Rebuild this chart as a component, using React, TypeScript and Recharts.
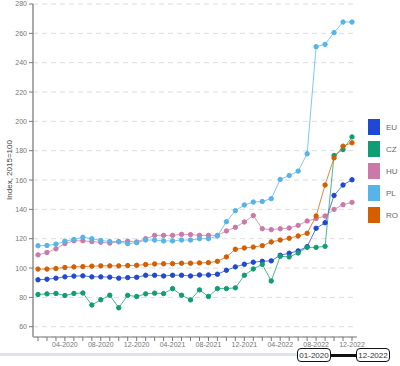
import React from 'react';
import { LineChart, Line, XAxis, YAxis, CartesianGrid, Legend } from 'recharts';

const months: string[] = [];
for (const y of [2020, 2021, 2022]) {
  for (let m = 1; m <= 12; m++) months.push(`${m < 10 ? '0' + m : m}-${y}`);
}

const EU = [92.0, 92.4, 93.1, 94.0, 94.5, 94.7, 94.0, 94.0, 93.8, 93.1, 93.5, 93.7, 95.1, 95.1, 94.6, 95.1, 95.1, 94.6, 95.3, 95.3, 95.8, 98.5, 100.8, 102.6, 104.0, 104.6, 104.9, 108.7, 110.1, 111.7, 114.6, 127.1, 130.9, 149.5, 156.6, 160.2];
const CZ = [82.0, 82.4, 82.7, 81.3, 82.7, 83.0, 74.8, 78.4, 81.5, 72.9, 81.4, 80.6, 82.4, 82.9, 82.6, 86.0, 81.5, 78.3, 85.1, 80.6, 86.0, 86.0, 86.5, 95.1, 99.4, 102.5, 91.2, 108.0, 107.6, 110.3, 114.1, 114.1, 114.8, 176.7, 180.8, 189.4];
const HU = [109.0, 110.6, 113.1, 116.7, 118.6, 118.6, 118.0, 117.6, 117.0, 118.0, 118.3, 117.8, 120.0, 122.3, 122.3, 122.3, 123.0, 122.8, 122.3, 122.3, 122.3, 125.3, 127.8, 131.4, 135.8, 126.8, 126.2, 126.8, 127.3, 129.1, 132.1, 133.7, 135.5, 140.0, 143.2, 144.8];
const PL = [115.2, 115.4, 116.3, 118.3, 119.5, 121.0, 120.0, 118.8, 118.1, 117.9, 116.6, 117.3, 119.1, 119.1, 118.5, 118.5, 119.1, 119.1, 120.0, 120.0, 121.9, 131.6, 139.1, 143.0, 145.0, 145.4, 147.3, 160.4, 163.1, 166.1, 177.9, 250.9, 252.5, 260.5, 267.7, 267.7];
const RO = [99.3, 99.3, 99.7, 100.4, 100.8, 101.0, 101.3, 101.5, 101.5, 101.5, 101.7, 101.9, 102.4, 102.8, 102.9, 103.0, 103.3, 103.3, 103.5, 103.7, 104.6, 107.6, 112.8, 113.7, 114.3, 115.3, 117.8, 119.1, 120.3, 121.9, 123.7, 135.5, 156.6, 175.1, 183.1, 185.4];

const yTicks = [60, 80, 100, 120, 140, 160, 180, 200, 220, 240, 260, 280];
const labeledMonths = ['04', '08', '12'];

const seriesList = [
  { key: 'EU', values: EU, color: '#1f48d4' },
  { key: 'CZ', values: CZ, color: '#0f9e73' },
  { key: 'HU', values: HU, color: '#cc79a7' },
  { key: 'PL', values: PL, color: '#56b4e9' },
  { key: 'RO', values: RO, color: '#d55e00' },
];

const data = months.map((m, i) => {
  const row: Record<string, any> = { month: m };
  seriesList.forEach((s) => (row[s.key] = s.values[i]));
  return row;
});

const FONT = '"Liberation Sans", Arial, sans-serif';

const LegendContent = () => (
  <div style={{ fontFamily: FONT }}>
    {seriesList.map((s) => (
      <div key={s.key} style={{ display: 'flex', alignItems: 'center', height: 22 }}>
        <div style={{ width: 14, height: 18, background: s.color, border: '1px solid #fff', boxSizing: 'border-box' }} />
        <span style={{ fontSize: 8, color: '#666', marginLeft: 5 }}>{s.key}</span>
      </div>
    ))}
  </div>
);

const YLabel = () => (
  <text x={10} y={170} transform="rotate(-90 10 170)" textAnchor="middle" dominantBaseline="middle" fontSize={8} fill="#444" fontFamily={FONT}>
    Index, 2015=100
  </text>
);

const boxStyle: React.CSSProperties = {
  position: 'absolute',
  top: 348,
  height: 14,
  width: 34,
  border: '1.5px solid #111',
  borderRadius: 4,
  background: '#fff',
  boxSizing: 'border-box',
  fontSize: 8,
  lineHeight: '11px',
  whiteSpace: 'nowrap',
  overflow: 'visible',
  color: '#333',
  fontFamily: FONT,
  display: 'flex',
  alignItems: 'center',
  justifyContent: 'center',
  padding: 0,
};

export default function App() {
  return (
    <div style={{ position: 'absolute', left: 0, top: 0, width: 400, height: 366 }}>
      <LineChart width={400} height={366} data={data} margin={{ top: 4, right: 43, bottom: 15, left: 0 }}>
        <CartesianGrid vertical={false} stroke="#ddd" strokeDasharray="5 4" />
        <XAxis
          dataKey="month"
          interval={0}
          height={14}
          padding={{ left: 5, right: 5 }}
          tickFormatter={(v: string) => (labeledMonths.includes(v.slice(0, 2)) ? v : '')}
          tick={{ fontSize: 7, fill: '#777', fontFamily: FONT }}
          tickSize={4}
          tickMargin={1}
          stroke="#777"
        />
        <YAxis
          width={33}
          domain={[53, 280]}
          ticks={yTicks}
          allowDataOverflow
          tick={{ fontSize: 7, fill: '#777', fontFamily: FONT }}
          tickSize={4}
          axisLine={{ stroke: '#aaa', strokeWidth: 2 }}
          tickLine={{ stroke: '#777' }}
          label={<YLabel />}
        />
        <Legend
          layout="vertical"
          align="center"
          verticalAlign="middle"
          content={<LegendContent />}
          wrapperStyle={{ left: 367, top: 116, width: 33, height: 110 }}
        />
        {seriesList.map((s) => (
          <Line
            key={s.key}
            dataKey={s.key}
            type="linear"
            stroke={s.color}
            strokeOpacity={0.75}
            strokeWidth={1}
            dot={{ r: 2.2, fill: s.color, stroke: s.color, strokeWidth: 1, strokeOpacity: 1 }}
            isAnimationActive={false}
          />
        ))}
      </LineChart>
      <div style={{ position: 'absolute', left: 0, top: 353, width: 298, height: 3, background: '#e2e2ec' }} />
      <div style={{ position: 'absolute', left: 330, top: 354, width: 27, height: 2.5, background: '#111' }} />
      <div style={{ ...boxStyle, left: 297 }}>01-2020</div>
      <div style={{ ...boxStyle, left: 356 }}>12-2022</div>
    </div>
  );
}
